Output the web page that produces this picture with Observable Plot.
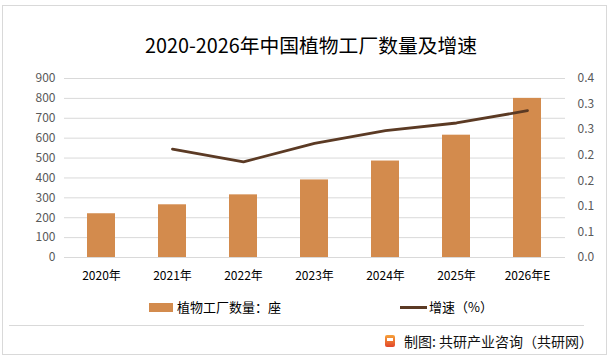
<!DOCTYPE html>
<html>
<head>
<meta charset="utf-8">
<script src="https://cdn.jsdelivr.net/npm/d3@7"></script>
<script src="https://cdn.jsdelivr.net/npm/@observablehq/plot@0.6"></script>
<style>
  html, body { margin: 0; padding: 0; background: #fff; }
  body { width: 613px; height: 358px; overflow: hidden; position: relative;
         font-family: "Noto Sans CJK SC", "Noto Sans", sans-serif; }
  #frame { position: absolute; left: 2px; top: 5px; width: 603px; height: 348px;
           border: 1px solid #d9d9d9; box-sizing: content-box; }
  #title { position: absolute; left: 145px; top: 32px; white-space: nowrap;
           font-size: 19.8px; color: #000; line-height: 26px; }
  #chart { position: absolute; left: 0; top: 60px; }
  .leg { position: absolute; top: 298px; font-size: 13px; color: #000; line-height: 18px; }
  .sw { position: absolute; }
  #sep { position: absolute; left: 9px; top: 325px; width: 575px; height: 0;
         border-top: 1px solid #d9d9d9; }
  #foot { position: absolute; left: 404px; top: 331px; font-size: 14px; line-height: 20px; color: #111; }
  #logo { position: absolute; left: 385px; top: 335px; width: 10px; height: 12px;
          border-radius: 2px; background: linear-gradient(#f6a23a, #e2462a); }
  #logo span { position: absolute; left: 2px; top: 3px; width: 6px; height: 3px; background: #fff; }
</style>
</head>
<body>
<div id="frame"></div>
<div id="title">2020-2026年中国植物工厂数量及增速</div>
<div id="chart"></div>
<div class="sw" style="left:149px; top:303px; width:24px; height:9px; background:#D38B4D;"></div>
<div class="leg" style="left:177px;">植物工厂数量：座</div>
<div class="sw" style="left:400px; top:306px; width:27px; height:3px; background:#5B3A24;"></div>
<div class="leg" style="left:429px;">增速（%）</div>
<div id="sep"></div>
<div id="logo"><span></span></div>
<div id="foot">制图: 共研产业咨询（共研网）</div>
<script>
const years = ["2020年", "2021年", "2022年", "2023年", "2024年", "2025年", "2026年E"];
const counts = [220, 265, 315, 390, 485, 615, 800];
const growth = [null, 0.212, 0.187, 0.223, 0.248, 0.263, 0.287];
const leftTicks = [0, 100, 200, 300, 400, 500, 600, 700, 800, 900];
const rightTicks = [0, 0.05, 0.1, 0.15, 0.2, 0.25, 0.3, 0.35];
const rightTickLabels = ["0.0", "0.1", "0.1", "0.2", "0.2", "0.3", "0.3", "0.4"];

const leftMax = 900, rightMax = 0.35;
const toLeft = v => v * leftMax / rightMax;

const barData = years.map((y, i) => ({ year: y, value: counts[i] }));
const lineData = years.map((y, i) => ({ year: y, g: growth[i] })).filter(d => d.g != null);

const plot = Plot.plot({
  width: 613,
  height: 230,
  marginLeft: 64,
  marginRight: 48,
  marginTop: 18,
  marginBottom: 33,
  style: { fontFamily: "'Noto Sans CJK SC', 'Noto Sans', sans-serif", fontSize: "12px", background: "transparent" },
  x: { type: "band", domain: years, paddingInner: 0.6, paddingOuter: 0.3, label: null },
  y: { domain: [0, leftMax], label: null },
  marks: [
    Plot.ruleY(leftTicks, { stroke: "#d9d9d9", strokeWidth: 1 }),
    Plot.barY(barData, { x: "year", y: "value", fill: "#D38B4D" }),
    Plot.line(lineData, { x: "year", y: d => toLeft(d.g), stroke: "#5B3A24", strokeWidth: 2.8, curve: "linear" }),
    Plot.axisY(leftTicks, { anchor: "left", tickSize: 0, tickPadding: 9, fill: "#595959", fontSize: 12, label: null }),
    Plot.axisY(rightTicks.map(toLeft), { anchor: "right", tickSize: 0, tickPadding: 12, fill: "#595959", fontSize: 12, label: null,
      tickFormat: d => rightTickLabels[Math.round(d / toLeft(0.05))] }),
    Plot.axisX({ anchor: "bottom", tickSize: 0, tickPadding: 14, fill: "#000", fontSize: 12, label: null })
  ]
});
document.getElementById("chart").appendChild(plot);
</script>
</body>
</html>
